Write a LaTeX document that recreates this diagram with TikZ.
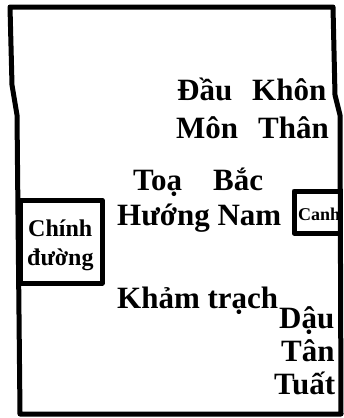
\documentclass[tikz,border=0pt]{standalone}
\usepackage{fontspec}
\setmainfont{Liberation Serif}
\usetikzlibrary{positioning}
\tikzset{
  wall/.style     ={line width=5pt, line join=round, line cap=round},
  word/.style     ={font=\bfseries\fontsize{31}{32}\selectfont, anchor=base west, inner sep=0pt},
  smallword/.style={word, font=\bfseries\fontsize{24}{29}\selectfont},
  tinyword/.style ={word, font=\bfseries\fontsize{18}{20}\selectfont},
}

\begin{document}
\begin{tikzpicture}[x=1pt, y=-1pt]
  \useasboundingbox (0,0) rectangle (343,418);
  \fill[white] (0,0) rectangle (343,418);
  % labels
  \node[word] (dau)   at (177,100) {Đầu};
  \node[word] (khon)  at (252,100) {Khôn};
  \node[word] (mon)   at (176,138) {Môn};
  \node[word] (than)  at (258,138) {Thân};
  \node[word] (toa)   at (133,190) {Toạ};
  \node[word] (bac)   at (213,190) {Bắc};
  \node[word] (huong) at (117,225) {Hướng Nam};
  \node[word] (kham)  at (117,308) {Khảm trạch};
  \node[word] (dauu)  at (279,328) {Dậu};
  \node[word] (tan)   at (281,361) {Tân};
  \node[word] (tuat)  at (274,394) {Tuất};
  \node[smallword] (chinh) at (28,236) {Chính};
  \node[smallword] (duong) at (27,265) {đường};
  \node[tinyword]  (canh)  at (298,220) {Canh};
  % walls
  \draw[wall] (10,7) -- (12,85) -- (17,115) -- (20,414) -- (341,414)
              -- (340,115) -- (335,95) -- (333,7) -- cycle;
  \draw[wall] (20,200) rectangle (102,283);
  \draw[wall] (340,191) -- (294,191) -- (294,233) -- (340,233);
\end{tikzpicture}
\end{document}
